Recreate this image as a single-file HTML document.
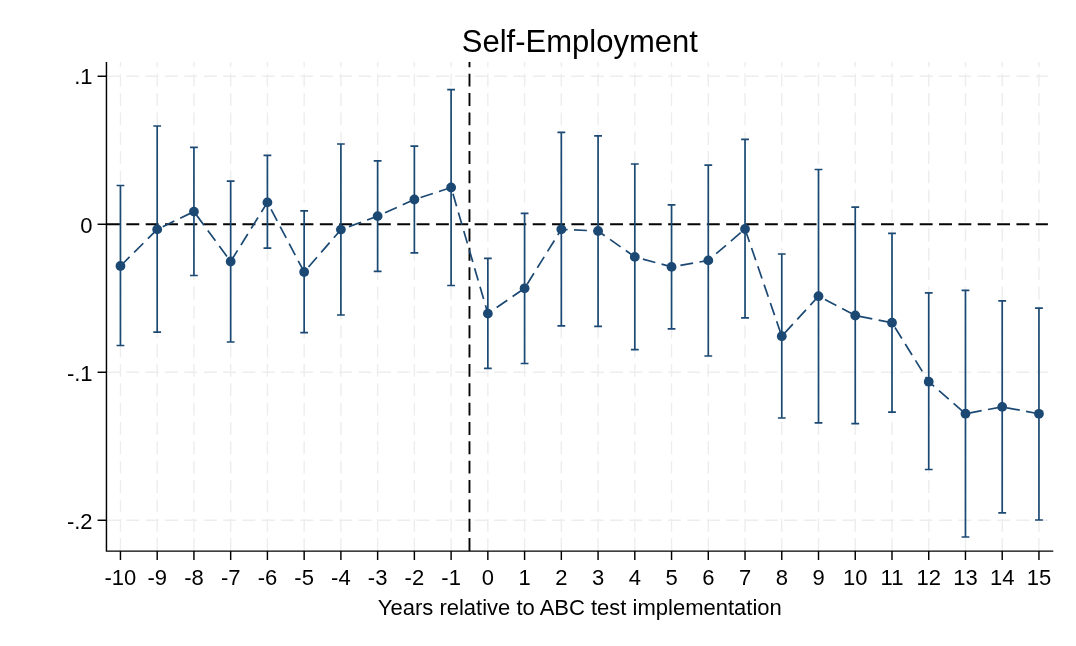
<!DOCTYPE html>
<html><head><meta charset="utf-8"><title>Self-Employment</title>
<style>
html,body{margin:0;padding:0;background:#fff;}
body{width:1076px;height:646px;overflow:hidden;}
svg{display:block;}
text{font-family:"Liberation Sans",Arial,sans-serif;fill:#000;}
</style></head><body>
<svg width="1076" height="646" viewBox="0 0 1076 646">
<rect width="1076" height="646" fill="#fff"/>
<g stroke="#ededed" stroke-width="1.4" stroke-dasharray="12.9 6.45" fill="none">
<line x1="120.45" y1="551.0" x2="120.45" y2="62.0"/>
<line x1="157.19" y1="551.0" x2="157.19" y2="62.0"/>
<line x1="193.93" y1="551.0" x2="193.93" y2="62.0"/>
<line x1="230.67" y1="551.0" x2="230.67" y2="62.0"/>
<line x1="267.41" y1="551.0" x2="267.41" y2="62.0"/>
<line x1="304.15" y1="551.0" x2="304.15" y2="62.0"/>
<line x1="340.89" y1="551.0" x2="340.89" y2="62.0"/>
<line x1="377.63" y1="551.0" x2="377.63" y2="62.0"/>
<line x1="414.37" y1="551.0" x2="414.37" y2="62.0"/>
<line x1="451.11" y1="551.0" x2="451.11" y2="62.0"/>
<line x1="487.85" y1="551.0" x2="487.85" y2="62.0"/>
<line x1="524.59" y1="551.0" x2="524.59" y2="62.0"/>
<line x1="561.33" y1="551.0" x2="561.33" y2="62.0"/>
<line x1="598.07" y1="551.0" x2="598.07" y2="62.0"/>
<line x1="634.81" y1="551.0" x2="634.81" y2="62.0"/>
<line x1="671.55" y1="551.0" x2="671.55" y2="62.0"/>
<line x1="708.29" y1="551.0" x2="708.29" y2="62.0"/>
<line x1="745.03" y1="551.0" x2="745.03" y2="62.0"/>
<line x1="781.77" y1="551.0" x2="781.77" y2="62.0"/>
<line x1="818.51" y1="551.0" x2="818.51" y2="62.0"/>
<line x1="855.25" y1="551.0" x2="855.25" y2="62.0"/>
<line x1="891.99" y1="551.0" x2="891.99" y2="62.0"/>
<line x1="928.73" y1="551.0" x2="928.73" y2="62.0"/>
<line x1="965.47" y1="551.0" x2="965.47" y2="62.0"/>
<line x1="1002.21" y1="551.0" x2="1002.21" y2="62.0"/>
<line x1="1038.95" y1="551.0" x2="1038.95" y2="62.0"/>
<line x1="107.0" y1="76.25" x2="1047.9" y2="76.25"/>
<line x1="107.0" y1="224.25" x2="1047.9" y2="224.25"/>
<line x1="107.0" y1="372.25" x2="1047.9" y2="372.25"/>
<line x1="107.0" y1="520.25" x2="1047.9" y2="520.25"/>
</g>
<g stroke="#050505" stroke-width="1.9" stroke-dasharray="12.9 6.45" fill="none">
<line x1="107.0" y1="224.25" x2="1047.9" y2="224.25"/>
<line x1="469.48" y1="551.0" x2="469.48" y2="62.0"/>
</g>
<g stroke="#1b4973" stroke-width="1.7" fill="none">
<path d="M120.45 185.5 V345.5 M116.55 185.5 H124.35 M116.55 345.5 H124.35"/>
<path d="M157.19 126.0 V332.2 M153.29 126.0 H161.09 M153.29 332.2 H161.09"/>
<path d="M193.93 147.3 V275.5 M190.03 147.3 H197.83 M190.03 275.5 H197.83"/>
<path d="M230.67 181.2 V342.0 M226.77 181.2 H234.57 M226.77 342.0 H234.57"/>
<path d="M267.41 155.4 V248.2 M263.51 155.4 H271.31 M263.51 248.2 H271.31"/>
<path d="M304.15 210.9 V332.7 M300.25 210.9 H308.05 M300.25 332.7 H308.05"/>
<path d="M340.89 144.0 V315.0 M336.99 144.0 H344.79 M336.99 315.0 H344.79"/>
<path d="M377.63 160.9 V271.4 M373.73 160.9 H381.53 M373.73 271.4 H381.53"/>
<path d="M414.37 146.1 V252.9 M410.47 146.1 H418.27 M410.47 252.9 H418.27"/>
<path d="M451.11 89.6 V285.5 M447.21 89.6 H455.01 M447.21 285.5 H455.01"/>
<path d="M487.85 258.4 V368.3 M483.95 258.4 H491.75 M483.95 368.3 H491.75"/>
<path d="M524.59 213.3 V363.5 M520.69 213.3 H528.49 M520.69 363.5 H528.49"/>
<path d="M561.33 132.3 V325.9 M557.43 132.3 H565.23 M557.43 325.9 H565.23"/>
<path d="M598.07 135.8 V326.4 M594.17 135.8 H601.97 M594.17 326.4 H601.97"/>
<path d="M634.81 164.0 V349.7 M630.91 164.0 H638.71 M630.91 349.7 H638.71"/>
<path d="M671.55 204.9 V328.9 M667.65 204.9 H675.45 M667.65 328.9 H675.45"/>
<path d="M708.29 165.2 V356.0 M704.39 165.2 H712.19 M704.39 356.0 H712.19"/>
<path d="M745.03 139.4 V317.9 M741.13 139.4 H748.93 M741.13 317.9 H748.93"/>
<path d="M781.77 254.0 V418.0 M777.87 254.0 H785.67 M777.87 418.0 H785.67"/>
<path d="M818.51 169.5 V422.8 M814.61 169.5 H822.41 M814.61 422.8 H822.41"/>
<path d="M855.25 207.2 V423.6 M851.35 207.2 H859.15 M851.35 423.6 H859.15"/>
<path d="M891.99 233.4 V412.1 M888.09 233.4 H895.89 M888.09 412.1 H895.89"/>
<path d="M928.73 292.9 V469.5 M924.83 292.9 H932.63 M924.83 469.5 H932.63"/>
<path d="M965.47 290.4 V537.0 M961.57 290.4 H969.37 M961.57 537.0 H969.37"/>
<path d="M1002.21 300.9 V512.9 M998.31 300.9 H1006.11 M998.31 512.9 H1006.11"/>
<path d="M1038.95 308.2 V520.0 M1035.05 308.2 H1042.85 M1035.05 520.0 H1042.85"/>
</g>
<polyline points="120.45,266.0 157.19,229.4 193.93,211.6 230.67,261.5 267.41,202.4 304.15,272.0 340.89,229.6 377.63,216.1 414.37,199.5 451.11,187.5 487.85,313.6 524.59,288.3 561.33,229.3 598.07,231.0 634.81,256.9 671.55,266.9 708.29,260.4 745.03,229.0 781.77,336.2 818.51,296.2 855.25,315.5 891.99,322.7 928.73,381.7 965.47,413.7 1002.21,406.9 1038.95,413.8" fill="none" stroke="#1b4973" stroke-width="1.7" stroke-dasharray="12.9 6.45"/>
<g fill="#1b4973">
<circle cx="120.45" cy="266.0" r="4.9"/>
<circle cx="157.19" cy="229.4" r="4.9"/>
<circle cx="193.93" cy="211.6" r="4.9"/>
<circle cx="230.67" cy="261.5" r="4.9"/>
<circle cx="267.41" cy="202.4" r="4.9"/>
<circle cx="304.15" cy="272.0" r="4.9"/>
<circle cx="340.89" cy="229.6" r="4.9"/>
<circle cx="377.63" cy="216.1" r="4.9"/>
<circle cx="414.37" cy="199.5" r="4.9"/>
<circle cx="451.11" cy="187.5" r="4.9"/>
<circle cx="487.85" cy="313.6" r="4.9"/>
<circle cx="524.59" cy="288.3" r="4.9"/>
<circle cx="561.33" cy="229.3" r="4.9"/>
<circle cx="598.07" cy="231.0" r="4.9"/>
<circle cx="634.81" cy="256.9" r="4.9"/>
<circle cx="671.55" cy="266.9" r="4.9"/>
<circle cx="708.29" cy="260.4" r="4.9"/>
<circle cx="745.03" cy="229.0" r="4.9"/>
<circle cx="781.77" cy="336.2" r="4.9"/>
<circle cx="818.51" cy="296.2" r="4.9"/>
<circle cx="855.25" cy="315.5" r="4.9"/>
<circle cx="891.99" cy="322.7" r="4.9"/>
<circle cx="928.73" cy="381.7" r="4.9"/>
<circle cx="965.47" cy="413.7" r="4.9"/>
<circle cx="1002.21" cy="406.9" r="4.9"/>
<circle cx="1038.95" cy="413.8" r="4.9"/>
</g>
<g stroke="#000" stroke-width="1.45" fill="none">
<path d="M106.45 62.0 V551.1 H1053.3"/>
<line x1="120.45" y1="551.1" x2="120.45" y2="560"/>
<line x1="157.19" y1="551.1" x2="157.19" y2="560"/>
<line x1="193.93" y1="551.1" x2="193.93" y2="560"/>
<line x1="230.67" y1="551.1" x2="230.67" y2="560"/>
<line x1="267.41" y1="551.1" x2="267.41" y2="560"/>
<line x1="304.15" y1="551.1" x2="304.15" y2="560"/>
<line x1="340.89" y1="551.1" x2="340.89" y2="560"/>
<line x1="377.63" y1="551.1" x2="377.63" y2="560"/>
<line x1="414.37" y1="551.1" x2="414.37" y2="560"/>
<line x1="451.11" y1="551.1" x2="451.11" y2="560"/>
<line x1="487.85" y1="551.1" x2="487.85" y2="560"/>
<line x1="524.59" y1="551.1" x2="524.59" y2="560"/>
<line x1="561.33" y1="551.1" x2="561.33" y2="560"/>
<line x1="598.07" y1="551.1" x2="598.07" y2="560"/>
<line x1="634.81" y1="551.1" x2="634.81" y2="560"/>
<line x1="671.55" y1="551.1" x2="671.55" y2="560"/>
<line x1="708.29" y1="551.1" x2="708.29" y2="560"/>
<line x1="745.03" y1="551.1" x2="745.03" y2="560"/>
<line x1="781.77" y1="551.1" x2="781.77" y2="560"/>
<line x1="818.51" y1="551.1" x2="818.51" y2="560"/>
<line x1="855.25" y1="551.1" x2="855.25" y2="560"/>
<line x1="891.99" y1="551.1" x2="891.99" y2="560"/>
<line x1="928.73" y1="551.1" x2="928.73" y2="560"/>
<line x1="965.47" y1="551.1" x2="965.47" y2="560"/>
<line x1="1002.21" y1="551.1" x2="1002.21" y2="560"/>
<line x1="1038.95" y1="551.1" x2="1038.95" y2="560"/>
<line x1="97.6" y1="76.25" x2="106.45" y2="76.25"/>
<line x1="97.6" y1="224.25" x2="106.45" y2="224.25"/>
<line x1="97.6" y1="372.25" x2="106.45" y2="372.25"/>
<line x1="97.6" y1="520.25" x2="106.45" y2="520.25"/>
</g>
<g font-size="22" text-anchor="middle">
<text x="120.45" y="585.1">-10</text>
<text x="157.19" y="585.1">-9</text>
<text x="193.93" y="585.1">-8</text>
<text x="230.67" y="585.1">-7</text>
<text x="267.41" y="585.1">-6</text>
<text x="304.15" y="585.1">-5</text>
<text x="340.89" y="585.1">-4</text>
<text x="377.63" y="585.1">-3</text>
<text x="414.37" y="585.1">-2</text>
<text x="451.11" y="585.1">-1</text>
<text x="487.85" y="585.1">0</text>
<text x="524.59" y="585.1">1</text>
<text x="561.33" y="585.1">2</text>
<text x="598.07" y="585.1">3</text>
<text x="634.81" y="585.1">4</text>
<text x="671.55" y="585.1">5</text>
<text x="708.29" y="585.1">6</text>
<text x="745.03" y="585.1">7</text>
<text x="781.77" y="585.1">8</text>
<text x="818.51" y="585.1">9</text>
<text x="855.25" y="585.1">10</text>
<text x="891.99" y="585.1">11</text>
<text x="928.73" y="585.1">12</text>
<text x="965.47" y="585.1">13</text>
<text x="1002.21" y="585.1">14</text>
<text x="1038.95" y="585.1">15</text>
</g>
<g font-size="22" text-anchor="end">
<text x="92.6" y="83.9">.1</text>
<text x="92.6" y="232.8">0</text>
<text x="92.6" y="380.8">-.1</text>
<text x="92.6" y="528.9">-.2</text>
</g>
<text x="579.8" y="615.1" font-size="22" text-anchor="middle">Years relative to ABC test implementation</text>
<text x="579.8" y="52.3" font-size="31" text-anchor="middle">Self-Employment</text>
</svg>
</body></html>
